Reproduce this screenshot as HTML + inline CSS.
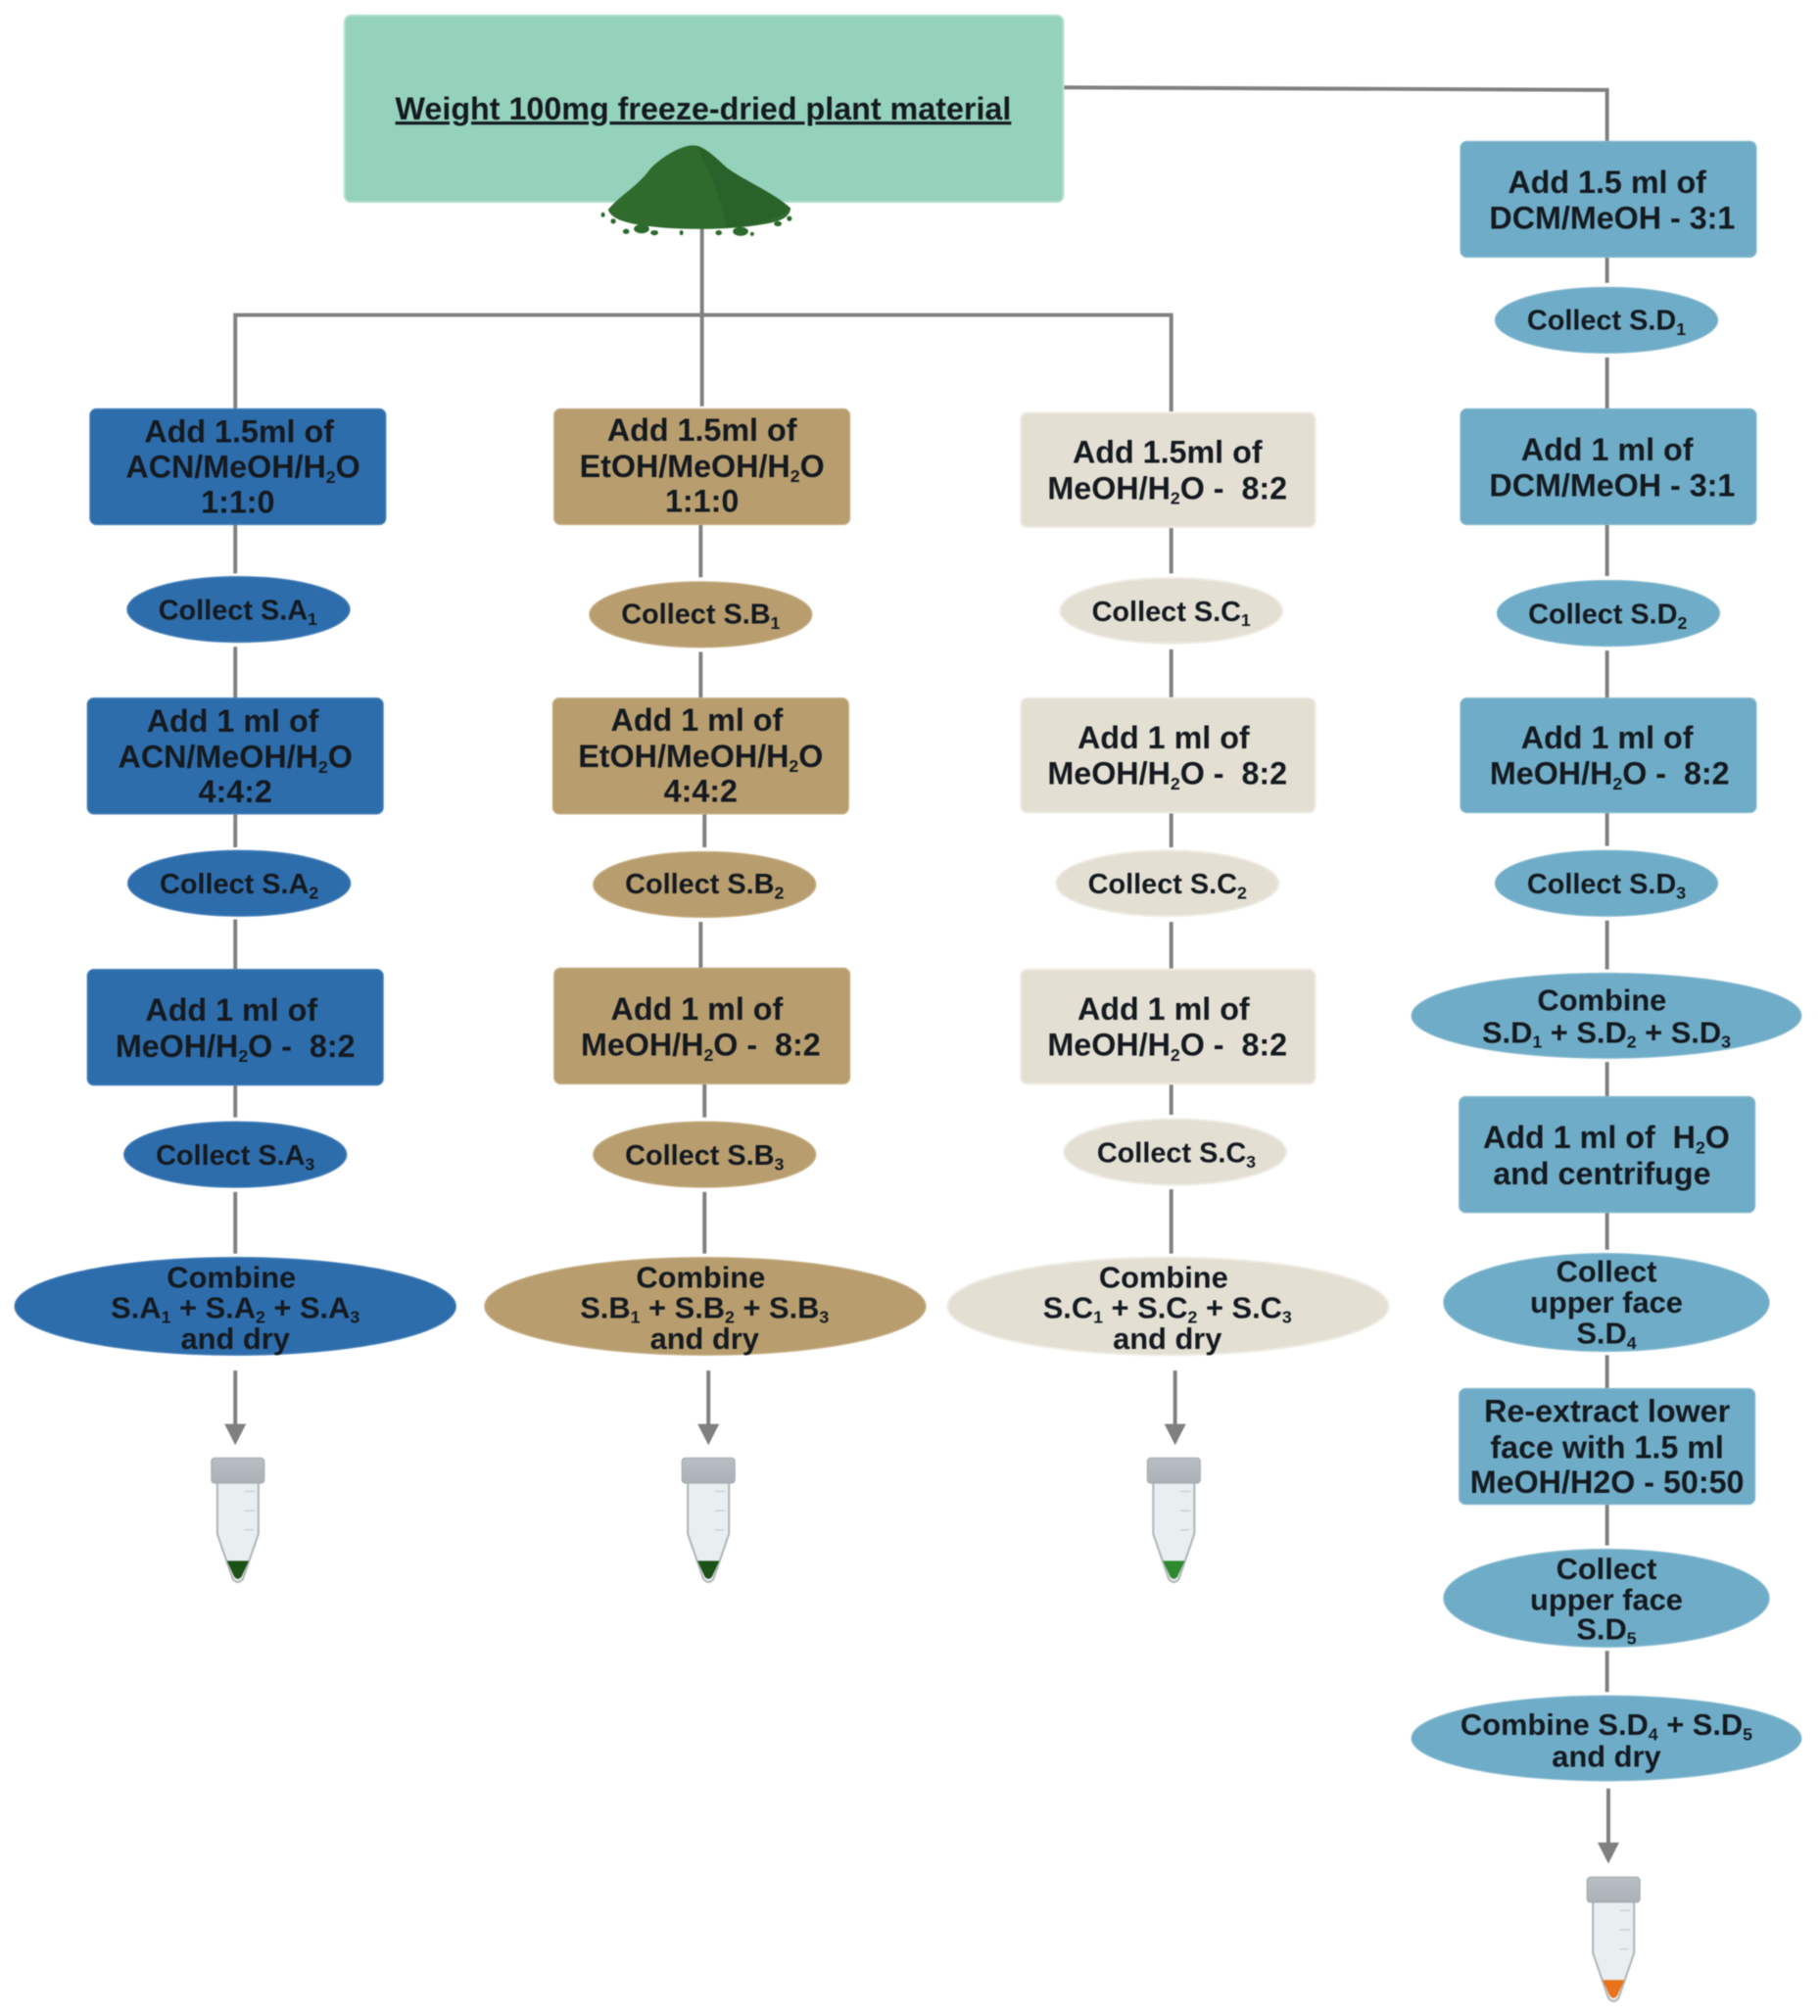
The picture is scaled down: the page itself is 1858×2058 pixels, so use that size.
<!DOCTYPE html>
<html><head><meta charset="utf-8"><title>Extraction workflow</title>
<style>
html,body{margin:0;padding:0;background:#fff}
svg{display:block;width:1858px;height:2058px;filter:blur(.6px)}
text{font-family:"Liberation Sans",sans-serif;font-weight:700;fill:#141a20;text-anchor:middle;font-size:24.6px;white-space:pre}
text.e{font-size:22px}
.c text{font-size:23.5px}
tspan.s{font-size:13.5px}
</style></head><body>
<svg xmlns="http://www.w3.org/2000/svg" viewBox="0 0 1415.6 1568">
<defs>
<linearGradient id="cap" x1="0" y1="0" x2="1" y2="0"><stop offset="0" stop-color="#b5bcc2"/><stop offset=".6" stop-color="#b8bfc4"/><stop offset=".8" stop-color="#a3abb1"/><stop offset="1" stop-color="#bcc3c8"/></linearGradient>
<linearGradient id="capv" x1="0" y1="0" x2="0" y2="1"><stop offset="0" stop-color="#b9bfc4"/><stop offset="1" stop-color="#aab1b7"/></linearGradient>
<g id="tube">
<path d="M-16 19V59L-4 94Q0 99 4 94L16 59V19Z" fill="#e9eff1" stroke="#b3b7b9" stroke-width="1.6"/>
<rect x="-20.5" y="0" width="41" height="19.5" rx="2.5" fill="url(#capv)" stroke="#a7aeb3" stroke-width="1"/>
<path d="M5 26h8M5 41h8M5 56h7" stroke="#c8cdd0" stroke-width="1"/>
</g>
<path id="head" d="M-8.4 0H8.4L0 16.5Z" fill="#808080"/>
</defs>

<!-- connectors -->
<g fill="none" stroke="#808080" stroke-width="3">
<path d="M827 68L1250 70V110"/>
<path d="M546 176V316M183 318V245H911V320"/>
<path d="M183 408V446M183 503V543M183 633V659M183 715V754M183 844V869M183 927V975"/>
<path d="M545 408V449M545 507V543M548 633V659M545 717V753M548 843V869M548 927V975"/>
<path d="M911 410V446M911 505V543M911 632V659M911 717V754M911 843V867M911 925V975"/>
<path d="M1250 200V220M1250 278V318M1250 408V448M1250 506V543M1250 632V658M1250 716V754M1250 826V853M1250 943V972M1250 1054V1080M1250 1170V1202M1250 1284V1316"/>
<path d="M183 1066V1108M551 1066V1108M914 1066V1108M1251 1391V1434"/>
</g>
<use href="#head" x="183" y="1107.5"/><use href="#head" x="551" y="1107.5"/><use href="#head" x="914" y="1107.5"/><use href="#head" x="1251" y="1433"/>

<!-- header -->
<rect x="268" y="12" width="559" height="145" rx="5" fill="#95d2bb" stroke="#b4e0cf" stroke-width="1.5"/>
<text x="547" y="93" style="text-decoration:underline">Weight 100mg freeze-dried plant material</text>

<!-- powder -->
<path d="M473 163C482 152 496 145 506 131C515 122 528 114 538 113C548 113 556 122 566 131C580 141 602 150 615 162C614 170 605 173 590 175C565 179 530 179 505 176C487 174 475 170 473 163Z" fill="#2f6b2d"/>
<path d="M541 113C550 115 557 124 566 131C580 141 602 150 615 162C606 170 590 175 565 177C562 160 552 130 541 113Z" fill="#2a6329"/>
<g fill="#2a6a2c"><ellipse cx="499" cy="178" rx="6" ry="3.5"/><ellipse cx="509" cy="181" rx="3" ry="2"/><ellipse cx="487" cy="180" rx="2.5" ry="2"/><ellipse cx="576" cy="180" rx="6" ry="3.5"/><ellipse cx="559" cy="181" rx="2.5" ry="2"/><ellipse cx="605" cy="174" rx="3" ry="2"/><ellipse cx="614" cy="170" rx="2" ry="2"/><ellipse cx="469" cy="167" rx="1.5" ry="2"/><ellipse cx="477" cy="172" rx="2" ry="2"/><ellipse cx="530" cy="181" rx="1.5" ry="2"/><ellipse cx="585" cy="182" rx="1.5" ry="1.5"/></g>

<!-- column A -->
<g fill="#2e6dab" stroke="#4b83bb" stroke-width="1">
<rect x="70" y="318" width="230" height="90" rx="5"/><rect x="68" y="543" width="230" height="90" rx="5"/><rect x="68" y="754" width="230" height="90" rx="5"/>
<ellipse cx="185.5" cy="474" rx="86.5" ry="25.5"/><ellipse cx="186" cy="687" rx="86.5" ry="25.5"/><ellipse cx="183" cy="898" rx="86.5" ry="25.5"/><ellipse cx="183" cy="1016" rx="171.5" ry="38"/>
</g>
<!-- column B -->
<g fill="#b89d6e" stroke="#c7b087" stroke-width="1">
<rect x="431" y="318" width="230" height="90" rx="5"/><rect x="430" y="543" width="230" height="90" rx="5"/><rect x="431" y="753" width="230" height="90" rx="5"/>
<ellipse cx="545" cy="478" rx="86.5" ry="25.5"/><ellipse cx="548" cy="688" rx="86.5" ry="25.5"/><ellipse cx="548" cy="898" rx="86.5" ry="25.5"/><ellipse cx="548.5" cy="1016" rx="171.5" ry="38"/>
</g>
<!-- column C -->
<g fill="#e3dfd3" stroke="#efece4" stroke-width="1.5">
<rect x="794" y="321" width="229" height="89" rx="5"/><rect x="794" y="543" width="229" height="89" rx="5"/><rect x="794" y="754" width="229" height="89" rx="5"/>
<ellipse cx="911" cy="475" rx="86.5" ry="25.5"/><ellipse cx="908" cy="687" rx="86.5" ry="25.5"/><ellipse cx="914" cy="896" rx="86.5" ry="25.5"/><ellipse cx="908.5" cy="1016" rx="171.5" ry="38"/>
</g>
<!-- column D -->
<g fill="#6facc7" stroke="#86bad1" stroke-width="1">
<rect x="1136" y="110" width="230" height="90" rx="5"/><rect x="1136" y="318" width="230" height="90" rx="5"/><rect x="1136" y="543" width="230" height="89" rx="5"/><rect x="1135" y="853" width="230" height="90" rx="5"/><rect x="1135" y="1080" width="230" height="90" rx="5"/>
<ellipse cx="1249.5" cy="249" rx="86.5" ry="25.5"/><ellipse cx="1251" cy="477" rx="86.5" ry="25.5"/><ellipse cx="1249.5" cy="687" rx="86.5" ry="25.5"/><ellipse cx="1249.5" cy="790" rx="151.5" ry="33"/><ellipse cx="1249.5" cy="1013" rx="126.5" ry="38"/><ellipse cx="1249.5" cy="1243" rx="126.5" ry="38"/><ellipse cx="1249.5" cy="1352" rx="151.5" ry="33"/>
</g>

<!-- tubes -->
<use href="#tube" x="185" y="1134"/><path d="M176.5 1214H193.5L188 1226Q185 1230 182 1226Z" fill="#1c5218"/>
<use href="#tube" x="551" y="1134"/><path d="M542.5 1214H559.5L554 1226Q551 1230 548 1226Z" fill="#1c5218"/>
<use href="#tube" x="913" y="1134"/><path d="M904.5 1214H921.5L916 1226Q913 1230 910 1226Z" fill="#2f8a2f"/>
<use href="#tube" x="1255" y="1460"/><path d="M1246.5 1540H1263.5L1258 1552Q1255 1556 1252 1552Z" fill="#e8731a"/>

<!-- text A -->
<text x="186" y="344">Add 1.5ml of</text>
<text x="189" y="371.5">ACN/MeOH/H<tspan class="s" dy="4">2</tspan><tspan dy="-4">O</tspan></text>
<text x="185" y="399">1:1:0</text>
<text class="e" x="185" y="482">Collect S.A<tspan class="s" dy="4">1</tspan></text>
<text x="181" y="569">Add 1 ml of</text>
<text x="183" y="597">ACN/MeOH/H<tspan class="s" dy="4">2</tspan><tspan dy="-4">O</tspan></text>
<text x="183" y="624">4:4:2</text>
<text class="e" x="186" y="695">Collect S.A<tspan class="s" dy="4">2</tspan></text>
<text x="180" y="794">Add 1 ml of</text>
<text x="183" y="822">MeOH/H<tspan class="s" dy="4">2</tspan><tspan dy="-4">O -  8:2</tspan></text>
<text class="e" x="183" y="906">Collect S.A<tspan class="s" dy="4">3</tspan></text>
<g class="c">
<text x="180" y="1001.5">Combine</text>
<text x="183" y="1025">S.A<tspan class="s" dy="4">1</tspan><tspan dy="-4"> + S.A</tspan><tspan class="s" dy="4">2</tspan><tspan dy="-4"> + S.A</tspan><tspan class="s" dy="4">3</tspan></text>
<text x="183" y="1049">and dry</text>
</g>

<!-- text B -->
<text x="546" y="343">Add 1.5ml of</text>
<text x="546" y="371">EtOH/MeOH/H<tspan class="s" dy="4">2</tspan><tspan dy="-4">O</tspan></text>
<text x="546" y="398">1:1:0</text>
<text class="e" x="545" y="485">Collect S.B<tspan class="s" dy="4">1</tspan></text>
<text x="542" y="568.5">Add 1 ml of</text>
<text x="545" y="596.5">EtOH/MeOH/H<tspan class="s" dy="4">2</tspan><tspan dy="-4">O</tspan></text>
<text x="545" y="623.5">4:4:2</text>
<text class="e" x="548" y="695">Collect S.B<tspan class="s" dy="4">2</tspan></text>
<text x="542" y="793">Add 1 ml of</text>
<text x="545" y="821">MeOH/H<tspan class="s" dy="4">2</tspan><tspan dy="-4">O -  8:2</tspan></text>
<text class="e" x="548" y="906">Collect S.B<tspan class="s" dy="4">3</tspan></text>
<g class="c">
<text x="545" y="1001.5">Combine</text>
<text x="548" y="1025">S.B<tspan class="s" dy="4">1</tspan><tspan dy="-4"> + S.B</tspan><tspan class="s" dy="4">2</tspan><tspan dy="-4"> + S.B</tspan><tspan class="s" dy="4">3</tspan></text>
<text x="548" y="1049">and dry</text>
</g>

<!-- text C -->
<text x="908" y="360">Add 1.5ml of</text>
<text x="908" y="388">MeOH/H<tspan class="s" dy="4">2</tspan><tspan dy="-4">O -  8:2</tspan></text>
<text class="e" x="911" y="483">Collect S.C<tspan class="s" dy="4">1</tspan></text>
<text x="905" y="582">Add 1 ml of</text>
<text x="908" y="610">MeOH/H<tspan class="s" dy="4">2</tspan><tspan dy="-4">O -  8:2</tspan></text>
<text class="e" x="908" y="695">Collect S.C<tspan class="s" dy="4">2</tspan></text>
<text x="905" y="793">Add 1 ml of</text>
<text x="908" y="821">MeOH/H<tspan class="s" dy="4">2</tspan><tspan dy="-4">O -  8:2</tspan></text>
<text class="e" x="915" y="904">Collect S.C<tspan class="s" dy="4">3</tspan></text>
<g class="c">
<text x="905" y="1001.5">Combine</text>
<text x="908" y="1025">S.C<tspan class="s" dy="4">1</tspan><tspan dy="-4"> + S.C</tspan><tspan class="s" dy="4">2</tspan><tspan dy="-4"> + S.C</tspan><tspan class="s" dy="4">3</tspan></text>
<text x="908" y="1049">and dry</text>
</g>

<!-- text D -->
<text x="1250" y="150">Add 1.5 ml of</text>
<text x="1254" y="178">DCM/MeOH - 3:1</text>
<text class="e" x="1249.5" y="256.5">Collect S.D<tspan class="s" dy="4">1</tspan></text>
<text x="1250" y="358">Add 1 ml of</text>
<text x="1254" y="386">DCM/MeOH - 3:1</text>
<text class="e" x="1250.5" y="485">Collect S.D<tspan class="s" dy="4">2</tspan></text>
<text x="1250" y="582">Add 1 ml of</text>
<text x="1252" y="610">MeOH/H<tspan class="s" dy="4">2</tspan><tspan dy="-4">O -  8:2</tspan></text>
<text class="e" x="1249.5" y="695">Collect S.D<tspan class="s" dy="4">3</tspan></text>
<g class="c">
<text x="1246" y="786">Combine</text>
<text x="1249.5" y="811">S.D<tspan class="s" dy="4">1</tspan><tspan dy="-4"> + S.D</tspan><tspan class="s" dy="4">2</tspan><tspan dy="-4"> + S.D</tspan><tspan class="s" dy="4">3</tspan></text>
</g>
<text x="1249.5" y="893">Add 1 ml of  H<tspan class="s" dy="4">2</tspan><tspan dy="-4">O</tspan></text>
<text x="1246" y="921">and centrifuge</text>
<g class="c">
<text x="1249.5" y="997">Collect</text>
<text x="1249.5" y="1021">upper face</text>
<text x="1249.5" y="1045">S.D<tspan class="s" dy="4">4</tspan></text>
</g>
<text x="1250" y="1106">Re-extract lower</text>
<text x="1250" y="1134">face with 1.5 ml</text>
<text x="1250" y="1161">MeOH/H2O - 50:50</text>
<g class="c">
<text x="1249.5" y="1228">Collect</text>
<text x="1249.5" y="1252">upper face</text>
<text x="1249.5" y="1275">S.D<tspan class="s" dy="4">5</tspan></text>
<text x="1249.5" y="1349.5">Combine S.D<tspan class="s" dy="4">4</tspan><tspan dy="-4"> + S.D</tspan><tspan class="s" dy="4">5</tspan></text>
<text x="1249.5" y="1374">and dry</text>
</g>
</svg>
</body></html>
